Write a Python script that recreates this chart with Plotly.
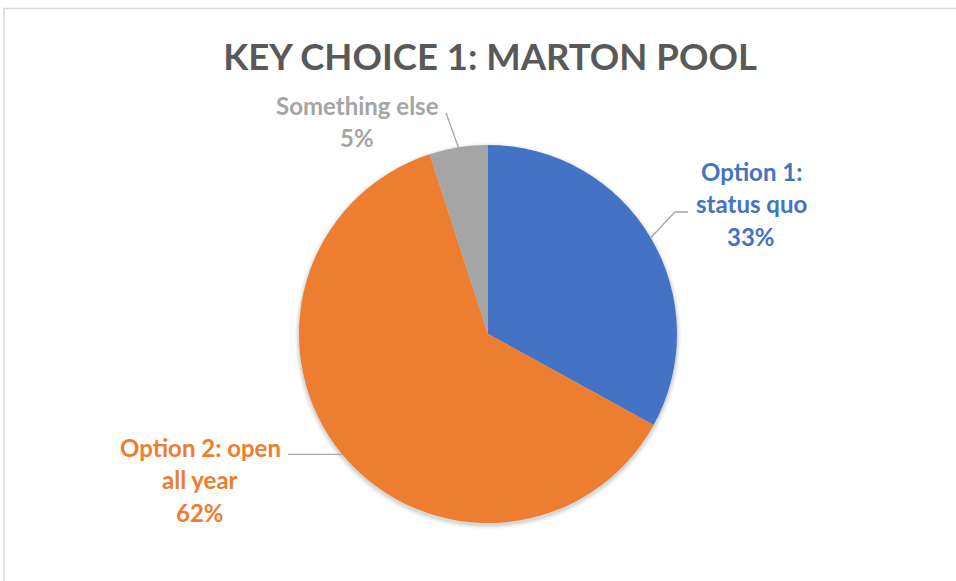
import math
import plotly.graph_objects as go

# ---- data ----
categories = ["Option 1: status quo", "Option 2: open all year", "Something else"]
values = [33, 62, 5]
label_lines = [["Option 1:", "status quo"], ["Option 2: open", "all year"], ["Something else"]]
colors = ["#4472C4", "#ED7D31", "#A5A5A5"]
title_text = "KEY CHOICE 1: MARTON POOL"

# ---- layout constants (pixels) ----
W, H = 956, 581
CX, CY, R = 488, 334, 189
FONT = "Lato"
label_font = 24
line_gap = 32.5
# label text centre (x, y of first line) and leader elbow points
label_pos = [(751, 172), (200, 448), (357, 106)]
leader_mid = [[(675, 212), (688, 212)], [(288, None)], [(446, 113)]]


def px(x):
    return x / W


def py(y):
    return 1 - y / H


fig = go.Figure()
fig.add_trace(go.Pie(
    labels=categories,
    values=values,
    sort=False,
    direction="clockwise",
    rotation=0,
    textinfo="none",
    hoverinfo="label+percent",
    marker=dict(colors=colors, line=dict(width=0)),
    showlegend=False,
    domain=dict(x=[px(CX - R), px(CX + R)], y=[py(CY + R), py(CY - R)]),
))

shapes = []
# soft shadow behind the pie
for i, a in enumerate([0.05, 0.04, 0.03, 0.02, 0.012]):
    rr = R + 1 + i
    oy = 2
    shapes.append(dict(type="circle", xref="paper", yref="paper", layer="below",
                       x0=px(CX - rr), x1=px(CX + rr), y0=py(CY + oy + rr), y1=py(CY + oy - rr),
                       line=dict(width=0), fillcolor=f"rgba(0,0,0,{a})"))
# chart border (top and left visible)
shapes.append(dict(type="rect", xref="paper", yref="paper", x0=px(4), x1=1.02, y0=-0.02, y1=py(8.5),
                   line=dict(color="#D9D9D9", width=1.5), fillcolor="rgba(0,0,0,0)", layer="below"))

annotations = []
total = sum(values)
cum = 0
for i, v in enumerate(values):
    mid = (cum + v / 2) / total * 2 * math.pi
    cum += v
    ax_ = CX + R * math.sin(mid)
    ay_ = CY - R * math.cos(mid)
    pts = [(ax_, ay_)]
    for (mx, my) in leader_mid[i]:
        pts.append((mx, ay_ if my is None else my))
    path = "M " + " L ".join(f"{px(x)},{py(y)}" for x, y in pts)
    shapes.append(dict(type="path", xref="paper", yref="paper", path=path,
                       line=dict(color="#A6A6A6", width=1.3)))
    pct = round(v / total * 100)
    lines = label_lines[i] + [f"{pct}%"]
    lx, ly = label_pos[i]
    for j, t in enumerate(lines):
        annotations.append(dict(text=f"<b>{t}</b>", x=px(lx), y=py(ly + j * line_gap - 1),
                                xref="paper", yref="paper", showarrow=False,
                                xanchor="center", yanchor="middle",
                                font=dict(family=FONT, size=label_font, color=colors[i])))

fig.update_layout(
    width=W, height=H,
    margin=dict(l=0, r=0, t=0, b=0),
    paper_bgcolor="white",
    plot_bgcolor="white",
    title=dict(text=f"<b>{title_text}</b>", x=px(490), y=py(57), xanchor="center", yanchor="middle",
               xref="paper", yref="container",
               font=dict(family=FONT, size=36.5, color="#595959")),
    shapes=shapes,
    annotations=annotations,
)

fig.write_html("out.html", config={"displayModeBar": False},
               post_script="document.body.style.margin='0';document.body.style.padding='0';")
